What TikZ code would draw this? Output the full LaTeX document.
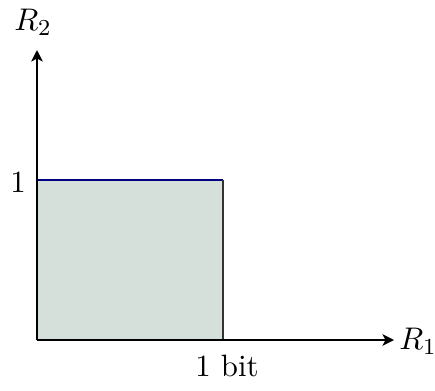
\documentclass[tikz,border=0pt]{standalone}
\usepackage{tikz}
\usetikzlibrary{arrows.meta}
\definecolor{regionfill}{HTML}{D6E0DA}
\definecolor{topedge}{HTML}{000080}
\definecolor{sideedge}{HTML}{333333}
\tikzset{
  axis/.style={-{Stealth[length=4pt,width=4pt,inset=1pt]},line width=1pt},
  lbl/.style={inner sep=1pt,font=\fontsize{10.8}{13}\selectfont},
}
\begin{document}
\begin{tikzpicture}[x=0.35pt,y=-0.35pt]
  \useasboundingbox (0,0) rectangle (435,390);
  \coordinate (O)  at (37,340);
  \coordinate (xe) at (394,340);
  \coordinate (ye) at (37,50);
  \coordinate (tl) at (37,180);
  \coordinate (tr) at (223,180);
  \coordinate (br) at (223,340);
  % capacity region
  \fill[regionfill] (O) rectangle (tr);
  \draw[topedge,line width=1pt] (tl) -- (tr);
  \draw[sideedge,line width=0.9pt] (tr) -- (br);
  % axes
  \draw[axis] (O) -- (xe);
  \draw[axis] (O) -- (ye);
  \node[lbl] (r1) at (418,341) {$R_1$};
  \node[lbl] (r2) at (33,22) {$R_2$};
  \node[lbl] (one) at (18,182) {1};
  \node[lbl] (bit) at (227,366) {1 bit};
\end{tikzpicture}
\end{document}
